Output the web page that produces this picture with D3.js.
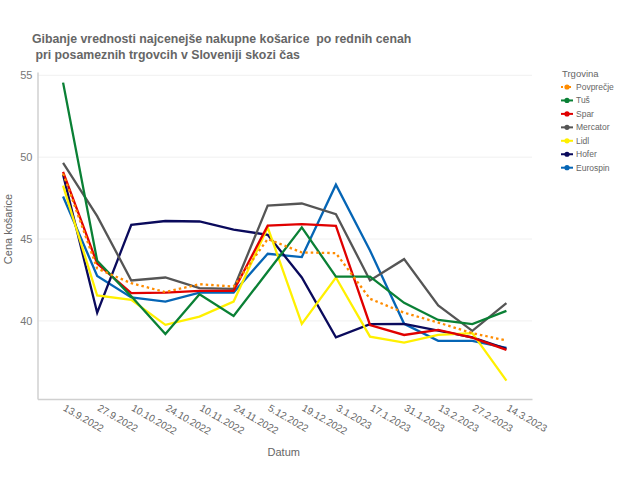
<!DOCTYPE html>
<html>
<head>
<meta charset="utf-8">
<script src="https://cdn.jsdelivr.net/npm/d3@7"></script>
<style>
  body { margin: 0; background: #fff; }
  svg { font-family: "Liberation Sans", Arial, sans-serif; }
</style>
</head>
<body>
<div id="chart"></div>
<script>
const dates = ["13.9.2022", "27.9.2022", "10.10.2022", "24.10.2022", "10.11.2022", "24.11.2022",
  "5.12.2022", "19.12.2022", "3.1.2023", "17.1.2023", "31.1.2023", "13.2.2023", "27.2.2023", "14.3.2023"];

const povprecje = [49.0, 43.2, 42.3, 41.76, 42.24, 42.1, 45.0, 44.18, 44.14, 41.35, 40.5, 39.9, 39.25, 38.8];
const tus = [54.55, 43.67, 41.5, 39.2, 41.63, 40.3, 43.0, 45.71, 42.7, 42.7, 41.1, 40.06, 39.8, 40.61];
const spar = [49.1, 43.5, 41.7, 41.73, 41.83, 41.83, 45.82, 45.91, 45.81, 39.75, 39.14, 39.45, 38.98, 38.23];
const mercator = [49.65, 46.4, 42.47, 42.65, 42.0, 41.96, 47.04, 47.17, 46.52, 42.47, 43.77, 40.94, 39.39, 41.08];
const lidl = [48.26, 41.55, 41.28, 39.76, 40.26, 41.18, 45.71, 39.82, 42.65, 39.04, 38.67, 39.14, 39.25, 36.35];
const hofer = [48.93, 40.5, 45.87, 46.1, 46.07, 45.57, 45.26, 42.65, 39.0, 39.8, 39.82, 39.4, 39.0, 38.29];
const eurospin = [47.6, 42.75, 41.43, 41.18, 41.73, 41.73, 44.1, 43.9, 48.32, 44.3, 39.82, 38.78, 38.78, 38.35];

const yTicks = [40, 45, 50, 55];

const series = [
  { name: "Povprečje", values: povprecje, color: "#ff8c00", dash: "2.5,3" },
  { name: "Tuš", values: tus, color: "#0a8035", dash: null },
  { name: "Spar", values: spar, color: "#e00000", dash: null },
  { name: "Mercator", values: mercator, color: "#555555", dash: null },
  { name: "Lidl", values: lidl, color: "#fff000", dash: null },
  { name: "Hofer", values: hofer, color: "#0a0a5c", dash: null },
  { name: "Eurospin", values: eurospin, color: "#0565b5", dash: null }
];

const width = 640, height = 480;
const plotLeft = 37.5, plotRight = 532, plotTop = 72, plotBottom = 399;

const svg = d3.select("#chart").append("svg")
  .attr("width", width)
  .attr("height", height);

const x = d3.scaleLinear().domain([-0.75, dates.length - 0.25]).range([plotLeft, plotRight]);
const y = d3.scaleLinear().domain([35.23, 55.2]).range([plotBottom, plotTop]);

// grid
svg.selectAll(".grid")
  .data(yTicks)
  .enter()
  .append("line")
  .attr("x1", plotLeft)
  .attr("x2", plotRight)
  .attr("y1", d => y(d))
  .attr("y2", d => y(d))
  .attr("stroke", "#f0f0f0")
  .attr("stroke-width", 1);

// axes
const yAxis = svg.append("g")
  .attr("transform", `translate(${plotLeft},0)`)
  .call(d3.axisLeft(y).tickValues(yTicks).tickSize(0).tickPadding(5));
yAxis.select(".domain").attr("stroke", "#d0d0d0").attr("stroke-width", 1.5);
yAxis.selectAll("text").attr("fill", "#777").attr("font-size", 11);

const xAxis = svg.append("g")
  .attr("transform", `translate(0,${plotBottom})`)
  .call(d3.axisBottom(x).tickValues(d3.range(dates.length)).tickSize(0).tickFormat(i => dates[i]));
xAxis.select(".domain").attr("stroke", "#d0d0d0").attr("stroke-width", 1.5);
xAxis.selectAll("text")
  .attr("fill", "#666")
  .attr("font-size", 10)
  .attr("text-anchor", "start")
  .attr("dy", null)
  .attr("y", 0)
  .attr("transform", "translate(-1,11) rotate(30)");

// lines
const line = d3.line()
  .x((d, i) => x(i))
  .y(d => y(d));

svg.selectAll(".series")
  .data(series.slice().reverse())
  .enter()
  .append("path")
  .attr("d", d => line(d.values))
  .attr("fill", "none")
  .attr("stroke", d => d.color)
  .attr("stroke-width", 2.3)
  .attr("stroke-dasharray", d => d.dash)
  .attr("stroke-linejoin", "miter");

// titles
const title = svg.append("text")
  .attr("fill", "#666")
  .attr("font-size", 12.3)
  .attr("font-weight", "bold");
title.append("tspan").attr("x", 32).attr("y", 43)
  .text("Gibanje vrednosti najcenejše nakupne košarice  po rednih cenah")
  .style("white-space", "pre");
title.append("tspan").attr("x", 32).attr("y", 59)
  .text("\u00a0pri posameznih trgovcih v Sloveniji skozi čas");

svg.append("text")
  .attr("x", (plotLeft + plotRight) / 2 - 1)
  .attr("y", 456)
  .attr("text-anchor", "middle")
  .attr("fill", "#666")
  .attr("font-size", 11)
  .text("Datum");

svg.append("text")
  .attr("transform", "translate(12,229) rotate(-90)")
  .attr("text-anchor", "middle")
  .attr("fill", "#666")
  .attr("font-size", 11)
  .text("Cena košarice");

// legend
const legend = svg.append("g").attr("transform", "translate(561,0)");
legend.append("text")
  .attr("x", 1)
  .attr("y", 77)
  .attr("fill", "#666")
  .attr("font-size", 9.5)
  .text("Trgovina");

const item = legend.selectAll(".item")
  .data(series)
  .enter()
  .append("g")
  .attr("transform", (d, i) => `translate(0,${87 + i * 13.45})`);

item.append("line")
  .attr("x1", 0)
  .attr("x2", 12)
  .attr("stroke", d => d.color)
  .attr("stroke-width", 2)
  .attr("stroke-dasharray", d => d.dash ? "2,2" : null);

item.append("circle")
  .attr("cx", 6)
  .attr("r", 2.6)
  .attr("fill", d => d.color);

item.append("text")
  .attr("x", 15)
  .attr("y", 3)
  .attr("fill", "#666")
  .attr("font-size", 8.5)
  .text(d => d.name);
</script>
</body>
</html>
